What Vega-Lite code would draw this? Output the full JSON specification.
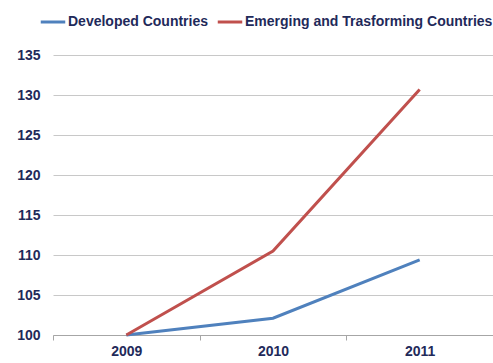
{
  "$schema": "https://vega.github.io/schema/vega-lite/v6.json",
  "autosize": {"type": "none"},
  "width": 440,
  "height": 280,
  "padding": {"left": 53, "top": 55, "right": 0, "bottom": 28},
  "background": "white",
  "data": {"values": [
    {"year": "2009", "series": "Developed Countries", "value": 100},
    {"year": "2010", "series": "Developed Countries", "value": 102.1},
    {"year": "2011", "series": "Developed Countries", "value": 109.4},
    {"year": "2009", "series": "Emerging and Trasforming Countries", "value": 100},
    {"year": "2010", "series": "Emerging and Trasforming Countries", "value": 110.5},
    {"year": "2011", "series": "Emerging and Trasforming Countries", "value": 130.7}
  ]},
  "mark": {"type": "line", "strokeWidth": 3},
  "encoding": {
    "x": {
      "field": "year", "type": "ordinal",
      "scale": {"type": "band", "paddingInner": 0, "paddingOuter": 0},
      "axis": {
        "title": null, "labelAngle": 0, "tickBand": "extent",
        "domainColor": "#A6A6A6", "tickColor": "#A6A6A6", "tickSize": 5,
        "labelFont": "Liberation Sans", "labelFontWeight": "bold",
        "labelFontSize": 14, "labelColor": "#1F2A5A", "labelPadding": 4,
        "grid": false
      }
    },
    "y": {
      "field": "value", "type": "quantitative",
      "scale": {"domain": [100, 135], "nice": false, "zero": false},
      "axis": {
        "title": null, "values": [100, 105, 110, 115, 120, 125, 130, 135],
        "domain": false, "ticks": false, "grid": true, "gridColor": "#C8C8C8",
        "labelFont": "Liberation Sans", "labelFontWeight": "bold",
        "labelFontSize": 14, "labelColor": "#1F2A5A", "labelPadding": 13
      }
    },
    "color": {
      "field": "series", "type": "nominal",
      "scale": {"domain": ["Developed Countries", "Emerging and Trasforming Countries"], "range": ["#4F81BD", "#C0504D"]},
      "legend": {
        "title": null, "orient": "none", "direction": "horizontal",
        "legendX": -14, "legendY": -47,
        "symbolType": "stroke", "symbolSize": 600, "symbolStrokeWidth": 3,
        "labelFont": "Liberation Sans", "labelFontWeight": "bold",
        "labelFontSize": 14, "labelColor": "#1F2A5A", "labelOffset": 1,
        "labelLimit": 400, "columnPadding": 2
      }
    }
  },
  "config": {"view": {"stroke": null}}
}
